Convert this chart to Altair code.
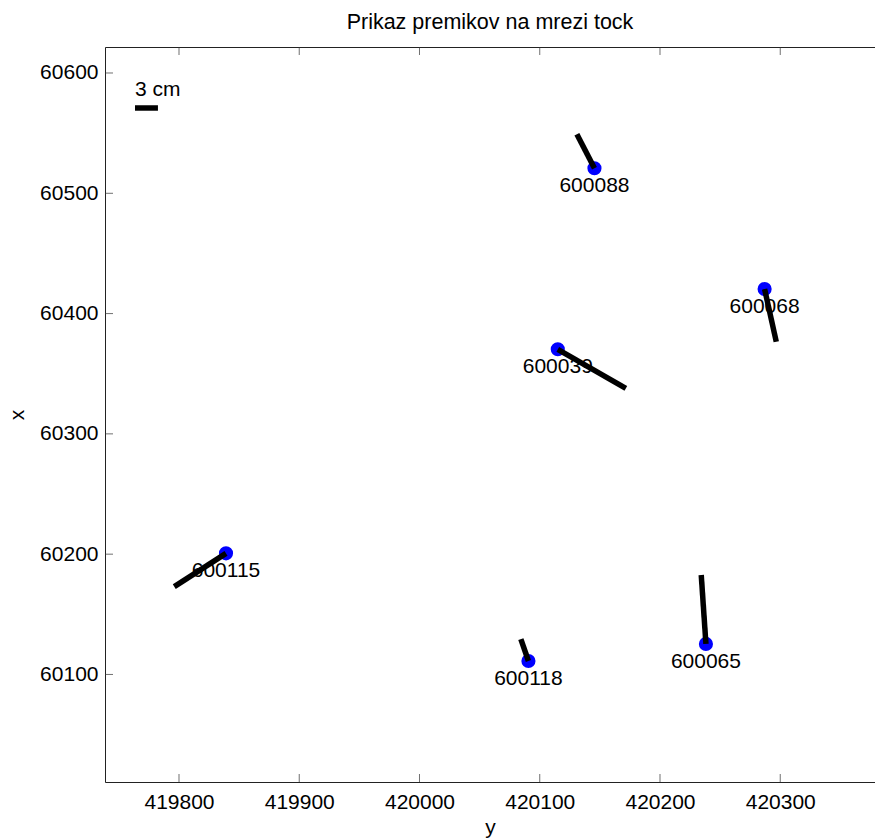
import altair as alt
import pandas as pd

# ---- data ----
point_ids = ["600088", "600039", "600068", "600115", "600118", "600065"]
east = [420145.5, 420115.0, 420287.0, 419839.1, 420090.6, 420238.2]
north = [60520.8, 60370.3, 60420.4, 60200.7, 60111.2, 60125.4]
east_end = [420130.9, 420171.6, 420296.7, 419796.1, 420084.3, 420234.3]
north_end = [60549.0, 60337.9, 60376.6, 60173.0, 60129.3, 60182.7]

x_ticks = [419800, 419900, 420000, 420100, 420200, 420300]
y_ticks = [60100, 60200, 60300, 60400, 60500, 60600]

scale_east = [419763.4, 419782.5]
scale_north = [60570.9]
scale_label_north = [60580.5]
scale_label = ["3 cm"]

x_domain = [419738.47, 420378.8]
y_domain = [60010.6, 60621.6]

FONT = "Liberation Sans"
W, H = 770, 735

pts = pd.DataFrame({"id": point_ids, "e": east, "n": north, "e2": east_end, "n2": north_end})
bar = pd.DataFrame({"e": [scale_east[0]], "e2": [scale_east[1]], "n": scale_north,
                    "ln": scale_label_north, "label": scale_label})
xt = pd.DataFrame({"v": x_ticks})
yt = pd.DataFrame({"v": y_ticks})

xs = alt.Scale(domain=x_domain, nice=False, zero=False)
ys = alt.Scale(domain=y_domain, nice=False, zero=False)

main_x_axis = alt.Axis(values=x_ticks, format="d", ticks=False, grid=False, domain=True,
                       domainColor="#222", labelFontSize=21, labelFont=FONT, labelColor="black",
                       labelPadding=9, titleFontSize=21, titleFont=FONT, titleFontWeight="normal",
                       titleColor="black", titlePadding=4, labelFlush=False)
main_y_axis = alt.Axis(values=y_ticks, format="d", ticks=False, grid=False, domain=True,
                       domainColor="#222", labelFontSize=21, labelFont=FONT, labelColor="black",
                       labelPadding=7, titleFontSize=21, titleFont=FONT, titleFontWeight="normal",
                       titleColor="black", titlePadding=12, labelFlush=False)
top_axis = alt.Axis(orient="top", labels=False, ticks=False, grid=False, domain=True,
                    domainColor="#222", title=None)


def Y(field):
    return alt.Y(field, scale=ys, axis=main_y_axis, title="x")


circles = alt.Chart(pts).mark_circle(color="#0000ff", size=200, opacity=1).encode(
    x=alt.X("e:Q", scale=xs, axis=main_x_axis, title="y"),
    y=Y("n:Q"),
)

labels = alt.Chart(pts).mark_text(font=FONT, fontSize=21, dy=18, baseline="middle",
                                  align="center", color="black").encode(
    x=alt.X("e:Q", scale=xs, axis=None),
    y=Y("n:Q"),
    text="id:N",
)

vectors = alt.Chart(pts).mark_rule(color="black", strokeWidth=5.5, strokeCap="butt").encode(
    x=alt.X("e:Q", scale=xs, axis=None),
    x2="e2:Q",
    y=Y("n:Q"),
    y2="n2:Q",
)

scale_bar = alt.Chart(bar).mark_rule(color="black", strokeWidth=5.5).encode(
    x=alt.X("e:Q", scale=xs, axis=None),
    x2="e2:Q",
    y=Y("n:Q"),
)
scale_text = alt.Chart(bar).mark_text(font=FONT, fontSize=21, align="left",
                                      baseline="alphabetic", color="black").encode(
    x=alt.X("e:Q", scale=xs, axis=None),
    y=Y("ln:Q"),
    text="label:N",
)

tick_style = dict(color="#333", thickness=1, size=8)
ticks_bottom = alt.Chart(xt).mark_tick(**tick_style).encode(
    x=alt.X("v:Q", scale=xs, axis=top_axis), y=alt.value(H - 4))
ticks_top = alt.Chart(xt).mark_tick(**tick_style).encode(
    x=alt.X("v:Q", scale=xs, axis=None), y=alt.value(4))
ticks_left = alt.Chart(yt).mark_tick(**tick_style).encode(
    y=Y("v:Q"), x=alt.value(4))

chart = alt.layer(
    circles, labels, vectors, scale_bar, scale_text, ticks_bottom, ticks_top, ticks_left
).resolve_axis(x="independent").properties(
    width=W, height=H,
    title=alt.TitleParams("Prikaz premikov na mrezi tock", font=FONT, fontSize=21.5,
                          fontWeight="normal", color="black", anchor="middle",
                          baseline="alphabetic", offset=-3),
    autosize=alt.AutoSizeParams(type="none"),
    padding={"left": 105, "top": 47, "right": 0, "bottom": 58},
).configure_view(stroke=None).configure(background="white")

chart.save("out.html", embed_options={"renderer": "svg", "actions": False})
